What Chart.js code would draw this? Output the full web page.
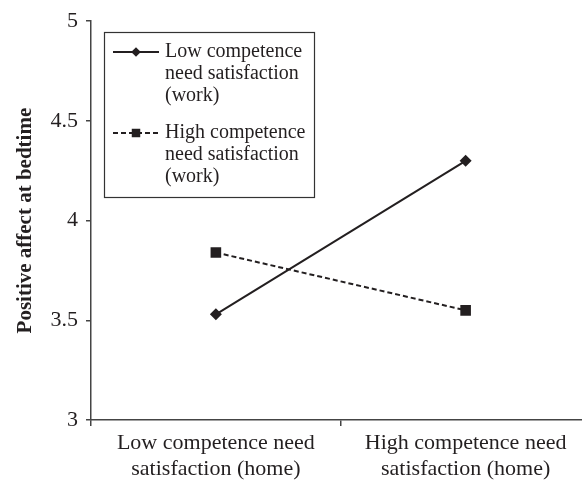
<!DOCTYPE html>
<html lang="en">
<head>
<meta charset="UTF-8">
<title>Positive affect at bedtime</title>
<script src="https://cdn.jsdelivr.net/npm/chart.js"></script>
<style>
    html, body { margin: 0; padding: 0; background: #fff; overflow: hidden; }
    #wrap { width: 598px; height: 481px; position: relative; }
</style>
</head>
<body>
<div id="wrap"><canvas id="chart" width="598" height="481"></canvas></div>
<script>
    // categories (home need satisfaction)
    const categories = [
        ['Low competence need', 'satisfaction (home)'],
        ['High competence need', 'satisfaction (home)']
    ];
    // series (work need satisfaction)
    const lowWorkLabel = ['Low competence', 'need satisfaction', '(work)'];
    const highWorkLabel = ['High competence', 'need satisfaction', '(work)'];
    const lowWork = [3.53, 4.30];
    const highWork = [3.84, 3.55];
    const yTicks = [3, 3.5, 4, 4.5, 5];

    const ink = '#231f20';
    const axisColor = '#444';
    const serif = "'Liberation Serif', 'Times New Roman', serif";

    // legend drawn inside the plot, with wrapped labels
    const boxLegend = {
        id: 'boxLegend',
        afterDraw(chart) {
            const ctx = chart.ctx;
            const left = 104, top = 32, w = 210, h = 165;
            ctx.save();
            ctx.fillStyle = '#fff';
            ctx.fillRect(left, top, w, h);
            ctx.strokeStyle = '#333';
            ctx.lineWidth = 1.2;
            ctx.strokeRect(left + 0.5, top + 0.5, w, h);
            ctx.font = '20px ' + serif;
            ctx.fillStyle = ink;
            ctx.textBaseline = 'middle';
            chart.data.datasets.forEach((ds, i) => {
                const y0 = top + 20 + i * 81;
                ctx.strokeStyle = ds.borderColor;
                ctx.lineWidth = ds.borderWidth;
                ctx.setLineDash(ds.borderDash || []);
                ctx.beginPath();
                ctx.moveTo(113, y0);
                ctx.lineTo(159, y0);
                ctx.stroke();
                ctx.setLineDash([]);
                ctx.fillStyle = ds.pointBackgroundColor;
                Chart.helpers.drawPoint(ctx, {
                    pointStyle: ds.pointStyle,
                    radius: ds.pointRadius * 0.8,
                    rotation: 0,
                    borderWidth: 0
                }, 136, y0);
                ctx.fillStyle = ink;
                ds.label.forEach((line, j) => {
                    ctx.fillText(line, 165, y0 + j * 22);
                });
            });
            ctx.restore();
        }
    };

    new Chart(document.getElementById('chart'), {
        type: 'line',
        data: {
            labels: categories,
            datasets: [
                {
                    label: lowWorkLabel,
                    data: lowWork,
                    borderColor: ink,
                    borderWidth: 2,
                    pointStyle: 'rectRot',
                    pointRadius: 6,
                    pointBackgroundColor: ink,
                    pointBorderColor: ink,
                    pointBorderWidth: 0,
                    tension: 0
                },
                {
                    label: highWorkLabel,
                    data: highWork,
                    borderColor: ink,
                    borderWidth: 2,
                    borderDash: [5, 3],
                    pointStyle: 'rect',
                    pointRadius: 7.5,
                    pointBackgroundColor: ink,
                    pointBorderColor: ink,
                    pointBorderWidth: 0,
                    tension: 0
                }
            ]
        },
        options: {
            responsive: false,
            animation: false,
            layout: { padding: { top: 20, right: 0, left: 0, bottom: 0 } },
            plugins: {
                legend: { display: false },
                tooltip: { enabled: false }
            },
            scales: {
                x: {
                    offset: true,
                    grid: {
                        offset: true,
                        drawOnChartArea: false,
                        drawTicks: true,
                        tickLength: 6,
                        color: axisColor,
                        lineWidth: 1.5
                    },
                    border: { display: true, color: axisColor, width: 1.5 },
                    ticks: {
                        color: ink,
                        padding: 4,
                        maxRotation: 0,
                        font: { family: serif, size: 22, lineHeight: 1.2 }
                    },
                    afterFit(scale) {
                        scale.height = 61;
                        scale.paddingLeft = 0;
                        scale.paddingRight = 0;
                    }
                },
                y: {
                    min: 3,
                    max: 5,
                    afterBuildTicks(scale) {
                        scale.ticks = yTicks.map(v => ({ value: v }));
                    },
                    grid: {
                        drawOnChartArea: false,
                        drawTicks: true,
                        tickLength: 5,
                        color: axisColor,
                        lineWidth: 1.5
                    },
                    border: { display: true, color: axisColor, width: 1.5 },
                    ticks: {
                        color: ink,
                        padding: 8,
                        font: { family: serif, size: 22 },
                        callback: v => String(v)
                    },
                    title: {
                        display: true,
                        text: 'Positive affect at bedtime',
                        color: ink,
                        padding: { top: 13, bottom: 0 },
                        font: { family: serif, size: 21, weight: 'bold' }
                    },
                    afterFit(scale) { scale.width = 91; }
                }
            }
        },
        plugins: [boxLegend]
    });
</script>
</body>
</html>
